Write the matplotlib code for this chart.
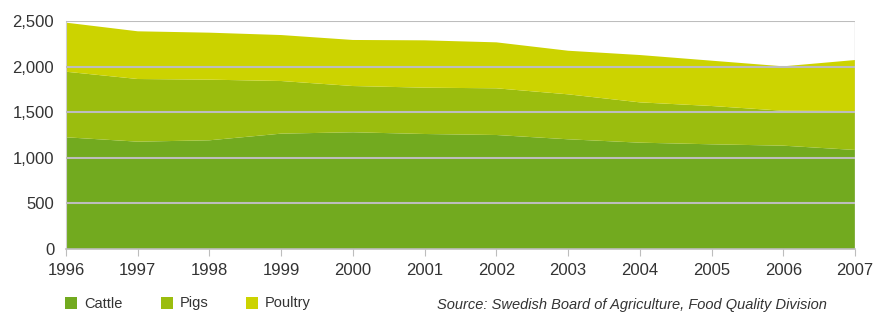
import matplotlib
matplotlib.use("Agg")
import matplotlib.pyplot as plt
from matplotlib.patches import Rectangle

years = [1996, 1997, 1998, 1999, 2000, 2001, 2002, 2003, 2004, 2005, 2006, 2007]
cattle = [1225, 1177, 1192, 1265, 1280, 1261, 1250, 1203, 1166, 1148, 1133, 1086]
pigs = [719, 687, 665, 577, 507, 508, 512, 493, 442, 420, 383, 427]
poultry = [538, 523, 515, 504, 505, 519, 504, 478, 519, 497, 487, 559]
series_names = ["Cattle", "Pigs", "Poultry"]
colors = ["#72aa1f", "#9bbd0e", "#ccd300"]
yticks = [0, 500, 1000, 1500, 2000, 2500]
ytick_labels = ["0", "500", "1,000", "1,500", "2,000", "2,500"]
source = "Source: Swedish Board of Agriculture, Food Quality Division"

plt.rcParams['font.family'] = ['Liberation Sans', 'DejaVu Sans']
W, H = 878, 314
fig = plt.figure(figsize=(W / 100, H / 100), dpi=100)
ax = fig.add_axes([66 / W, 1 - 249 / H, (855 - 66) / W, (249 - 21) / H])

ax.stackplot(years, cattle, pigs, poultry, colors=colors, linewidth=0, zorder=1)
ax.set_xlim(1996, 2007)
ax.set_ylim(0, 2500)
ax.set_yticks(yticks)
ax.set_yticklabels(ytick_labels)
ax.set_xticks(years)
ax.set_xticklabels([str(y) for y in years])
for y in yticks[1:]:
    ax.axhline(y, color="#bdbdbd", lw=1.5, zorder=3)
ax.axvline(2007, color="#cfcfcf", lw=1.0, zorder=3)
for s in ["top", "right"]:
    ax.spines[s].set_visible(False)
ax.spines["left"].set_color("#cfcfcf")
ax.spines["bottom"].set_color("#bdbdbd")
ax.spines["bottom"].set_linewidth(1.2)
ax.tick_params(axis="y", length=0, pad=8.5, labelsize=12, labelcolor="#333333")
ax.tick_params(axis="x", length=5, color="#bdbdbd", pad=5, labelsize=12, labelcolor="#333333")

# legend
lx = [65, 161, 246]
for name, c, x in zip(series_names, colors, lx):
    fig.patches.append(Rectangle((x / W, 1 - 309 / H), 12 / W, 12 / H,
                                 transform=fig.transFigure, facecolor=c, edgecolor="none"))
    fig.text((x + 19) / W, 1 - 303.5 / H, name, fontsize=10.5, color="#333333", va="center")

fig.text(437 / W, 2 / H, source, fontsize=10.5, style="italic", color="#333333", va="bottom")

fig.savefig("out.png", dpi=100)
